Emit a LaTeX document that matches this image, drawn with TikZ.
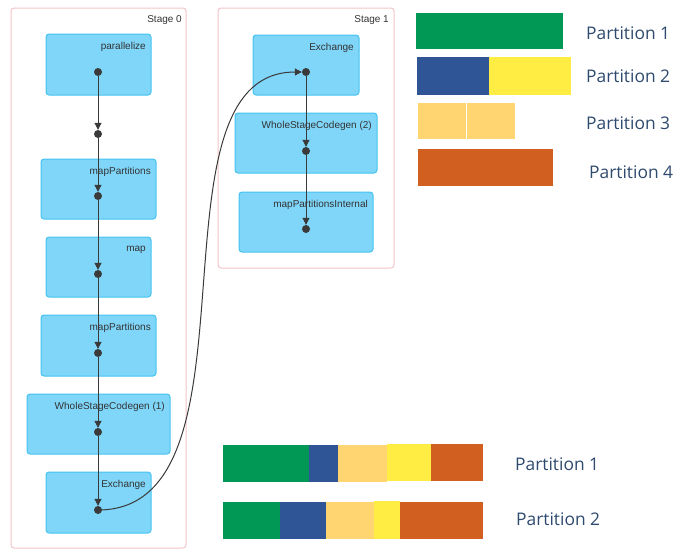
\documentclass[tikz,border=0pt]{standalone}
\usepackage{fontspec}
\setmainfont{Liberation Sans}
\newfontfamily\partfont{Open Sans}
\usetikzlibrary{arrows.meta,calc}
\definecolor{pgreen}{HTML}{009854}
\definecolor{pblue}{HTML}{2F5597}
\definecolor{pyellow}{HTML}{FFED44}
\definecolor{plight}{HTML}{FFD572}
\definecolor{porange}{HTML}{D15F20}
\definecolor{boxfill}{HTML}{7FD6F9}
\definecolor{boxline}{HTML}{45C3F0}
\definecolor{stageline}{HTML}{F2C4C9}
\definecolor{ptext}{HTML}{2E4A6E}
\definecolor{dotc}{HTML}{3A3A3A}
\tikzset{
  stagebox/.style={draw=stageline, line width=1pt, rounded corners=3pt},
  opbox/.style={draw=boxline, fill=boxfill, line width=1pt, rounded corners=3pt, inner sep=0pt},
  oplbl/.style={font=\fontsize{10}{12}\selectfont, text=black!80, inner sep=0pt, anchor=east},
  dotn/.style={circle, fill=dotc, minimum size=8pt, inner sep=0pt},
  arr/.style={draw=dotc, line width=1pt, -{Triangle[length=7pt,width=7pt]}},
  plbl/.style={font=\partfont\fontsize{17.4}{20}\selectfont, text=ptext, inner sep=0pt, anchor=west},
}
\begin{document}
\begin{tikzpicture}[x=1pt,y=-1pt]
\useasboundingbox (0,0) rectangle (691,552);
% stages
\draw[stagebox] (11,8) rectangle (186,548);
\node[oplbl] (s0l) at (182,20) {Stage 0};
\draw[stagebox] (218,8) rectangle (394,268);
\node[oplbl] (s1l) at (389,20) {Stage 1};
% stage 0 boxes
\newcommand{\opb}[6]{% name, x1, y1, x2, y2, label
  \node[opbox, minimum width={#4-#2}, minimum height={#5-#3}] (#1) at ({(#2+#4)/2},{(#3+#5)/2}) {};
  \node[oplbl] (#1l) at ({#4-5},{#3+12.5}) {#6};
}
\opb{par}{46}{34}{151}{95}{parallelize}
\opb{mp1}{41}{159}{156}{219}{mapPartitions}
\opb{map}{46}{237}{151}{297}{map}
\opb{mp2}{41}{315}{156}{376}{mapPartitions}
\opb{wsc1}{27}{394}{170}{454}{WholeStageCodegen (1)}
\opb{ex0}{46}{472}{151}{533}{Exchange}
% stage 1 boxes
\opb{ex1}{253}{35}{359}{95}{Exchange}
\opb{wsc2}{235}{113}{377}{173}{WholeStageCodegen (2)}
\opb{mpi}{239}{192}{373}{252}{mapPartitionsInternal}
% dots
\node[dotn] (d1) at (98,72) {};
\node[dotn] (d2) at (98,134) {};
\node[dotn] (d3) at (98,196) {};
\node[dotn] (d4) at (98,274) {};
\node[dotn] (d5) at (98,353) {};
\node[dotn] (d6) at (98,432) {};
\node[dotn] (d7) at (98,510) {};
\node[dotn] (e1) at (306,72) {};
\node[dotn] (e2) at (306,151) {};
\node[dotn] (e3) at (306,229) {};
\draw[arr] (d1) -- (d2);
\draw[arr] (d2) -- (d3);
\draw[arr] (d3) -- (d4);
\draw[arr] (d4) -- (d5);
\draw[arr] (d5) -- (d6);
\draw[arr] (d6) -- (d7);
\draw[arr] (e1) -- (e2);
\draw[arr] (e2) -- (e3);
\draw[arr] (d7.center) .. controls (270,510) and (140,72) .. (e1);
% top-right partitions
\fill[pgreen] (416,13) rectangle (563,49);
\fill[pblue] (417,57) rectangle (489,95);
\fill[pyellow] (489,57) rectangle (571,95);
\fill[plight] (418,103) rectangle (466,139);
\fill[plight] (467,103) rectangle (515,139);
\fill[porange] (418,149) rectangle (553,186);
\node[plbl] (tp1) at (586,33) {Partition 1};
\node[plbl] (tp2) at (586,76) {Partition 2};
\node[plbl] (tp3) at (586,123) {Partition 3};
\node[plbl] (tp4) at (589,172) {Partition 4};
% bottom partitions
\fill[pgreen] (223,445) rectangle (309,482);
\fill[pblue] (309,445) rectangle (338,482);
\fill[plight] (338,445) rectangle (387,482);
\fill[pyellow] (387,444) rectangle (431,481);
\fill[porange] (431,444) rectangle (483,481);
\fill[pgreen] (223,502) rectangle (280,539);
\fill[pblue] (280,502) rectangle (326,539);
\fill[plight] (326,502) rectangle (374,539);
\fill[pyellow] (374,501) rectangle (400,539);
\fill[porange] (400,502) rectangle (483,539);
\node[plbl] (bp1) at (515,464) {Partition 1};
\node[plbl] (bp2) at (516,519) {Partition 2};
\end{tikzpicture}
\end{document}
